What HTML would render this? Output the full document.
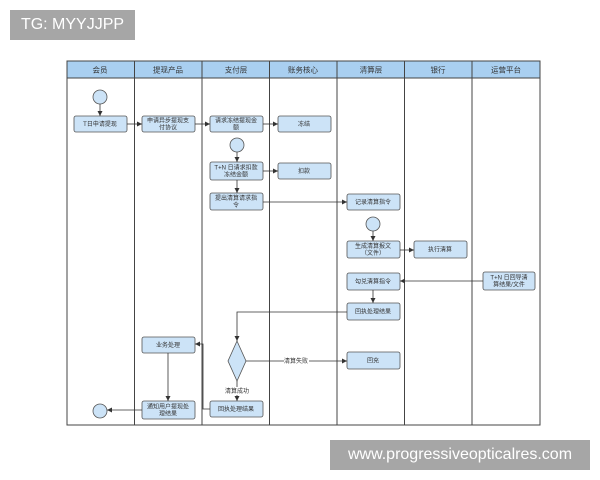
<!DOCTYPE html>
<html><head><meta charset="utf-8"><style>
body{margin:0;background:#fff;width:600px;height:480px;overflow:hidden;position:relative;font-family:"Liberation Sans","Noto Sans CJK SC",sans-serif}
.tag{position:absolute;background:#a6a6a6;color:#fff;font-size:16px;line-height:30px}
svg{position:absolute;left:0;top:0}
svg text{font-family:"Liberation Sans","Noto Sans CJK SC",sans-serif;font-size:6px;fill:#333;text-anchor:middle}
svg text.h{font-size:7.5px}
</style></head><body>
<svg width="600" height="480" viewBox="0 0 600 480">
<defs><marker id="a" markerWidth="6" markerHeight="6" refX="5" refY="3" orient="auto" markerUnits="userSpaceOnUse"><path d="M0,0.5L5,3L0,5.5z" fill="#333"/></marker></defs>
<g stroke="#444" stroke-width="1">
<rect x="67" y="61" width="473" height="17" fill="#a9cff0"/>
<rect x="67" y="61" width="473" height="364" fill="none"/>
<path d="M134.5 61V425M202 61V425M269.5 61V425M337 61V425M404.5 61V425M472 61V425"/>
</g>
<g><text class="h" x="100" y="72.5">会员</text><text class="h" x="168" y="72.5">提现产品</text><text class="h" x="236" y="72.5">支付层</text><text class="h" x="303" y="72.5">账务核心</text><text class="h" x="371" y="72.5">清算层</text><text class="h" x="438" y="72.5">银行</text><text class="h" x="506" y="72.5">运营平台</text></g>
<g fill="#cce3f7" stroke="#555" stroke-width="0.8">
<circle cx="100" cy="97" r="7"/><circle cx="237" cy="145" r="7"/><circle cx="373" cy="224" r="7"/><circle cx="100" cy="411" r="7"/>
<rect x="74" y="116" width="53" height="16" rx="2"/>
<rect x="142" y="116" width="53" height="16" rx="2"/>
<rect x="210" y="116" width="53" height="16" rx="2"/>
<rect x="278" y="116" width="53" height="16" rx="2"/>
<rect x="210" y="162" width="53" height="18" rx="2"/>
<rect x="278" y="163" width="53" height="16" rx="2"/>
<rect x="210" y="193" width="53" height="17" rx="2"/>
<rect x="347" y="194" width="53" height="16" rx="2"/>
<rect x="347" y="241" width="53" height="17" rx="2"/>
<rect x="414" y="241" width="53" height="17" rx="2"/>
<rect x="347" y="273" width="53" height="17" rx="2"/>
<rect x="483" y="272" width="52" height="18" rx="2"/>
<rect x="347" y="303" width="53" height="17" rx="2"/>
<rect x="347" y="352" width="53" height="17" rx="2"/>
<rect x="142" y="337" width="53" height="16" rx="2"/>
<rect x="210" y="401" width="53" height="16" rx="2"/>
<rect x="142" y="401" width="53" height="18" rx="2"/>
<path d="M237 341L246 361L237 381L228 361Z"/>
</g>
<g stroke="#333" stroke-width="0.8" fill="none" marker-end="url(#a)">
<path d="M100 104V116"/><path d="M127 124H142"/><path d="M195 124H210"/><path d="M263 124H278"/>
<path d="M237 152V162"/><path d="M263 171H278"/><path d="M237 180V193"/>
<path d="M263 202H347"/><path d="M373 231V241"/><path d="M400 250H414"/>
<path d="M483 281H400"/><path d="M373 290V303"/>
<path d="M347 312H237V341"/><path d="M246 361H347"/><path d="M237 381V401"/>
<path d="M210 409H203V344H195"/><path d="M168 353V401"/><path d="M142 410H107"/>
</g>
<g>
<rect x="284" y="357" width="25" height="8" fill="#fff"/><text x="296" y="363">清算失败</text>
<rect x="225" y="387" width="25" height="8" fill="#fff"/><text x="237" y="393">清算成功</text>
<text x="100" y="126">T日申请提现</text>
<text x="168" y="122.5">申请异步提现支</text><text x="168" y="129.5">付协议</text>
<text x="236" y="122.5">请求冻结提现金</text><text x="236" y="129.5">额</text>
<text x="304" y="126">冻结</text>
<text x="236" y="169.5">T+N 日请求扣款</text><text x="236" y="176.5">冻结金额</text>
<text x="304" y="173">扣款</text>
<text x="236" y="200">提出清算请求指</text><text x="236" y="207">令</text>
<text x="373" y="204">记录清算指令</text>
<text x="373" y="248">生成清算报文</text><text x="373" y="255">（文件）</text>
<text x="440" y="251.5">执行清算</text>
<text x="373" y="283.5">勾兑清算指令</text>
<text x="509" y="279.5">T+N 日回导清</text><text x="509" y="286.5">算结果/文件</text>
<text x="373" y="313.5">回执处理结果</text>
<text x="373" y="362.5">回充</text>
<text x="168" y="347">业务处理</text>
<text x="236" y="411">回执处理结果</text>
<text x="168" y="408.5">通知用户提现处</text><text x="168" y="415.5">理结果</text>
</g>
</svg>
<div class="tag" style="left:10px;top:10px;width:125px;text-align:center">TG: MYYJJPP</div>
<div class="tag" style="left:330px;top:440px;width:260px;text-align:center">www.progressiveopticalres.com</div>
</body></html>
